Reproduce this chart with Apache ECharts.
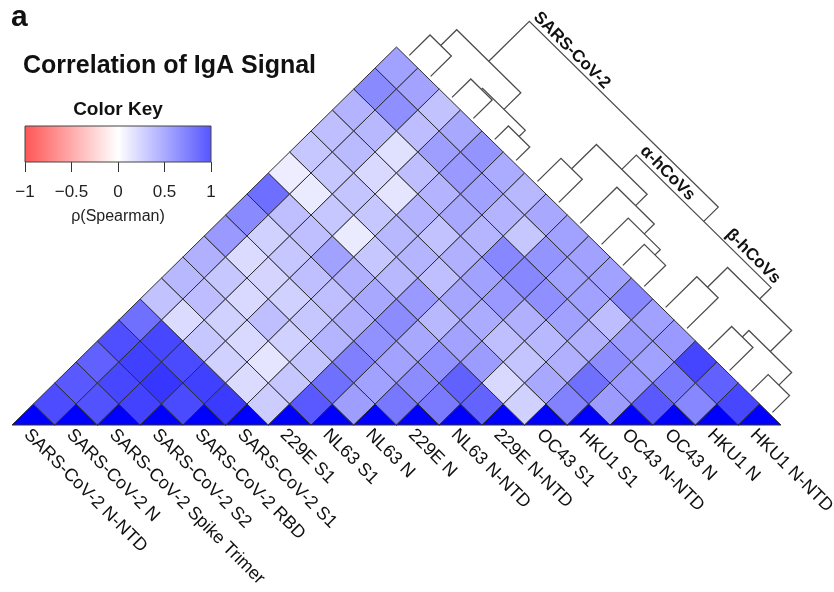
<!DOCTYPE html>
<html>
<head>
<meta charset="utf-8">
<script src="https://cdn.jsdelivr.net/npm/echarts@6/dist/echarts.min.js"></script>
<style>
  html, body { margin: 0; padding: 0; background: #ffffff; }
  #chart { width: 834px; height: 592px; }
</style>
</head>
<body>
<div id="chart"></div>
<script>
// Antigens in dendrogram (leaf) order
const antigens = [
  'SARS-CoV-2 N-NTD', 'SARS-CoV-2 N', 'SARS-CoV-2 Spike Trimer', 'SARS-CoV-2 S2',
  'SARS-CoV-2 RBD', 'SARS-CoV-2 S1', '229E S1', 'NL63 S1', 'NL63 N', '229E N',
  'NL63 N-NTD', '229E N-NTD', 'OC43 S1', 'HKU1 S1', 'OC43 N-NTD', 'OC43 N',
  'HKU1 N', 'HKU1 N-NTD'
];

// Spearman rho, upper triangle: rhoRows[i][k] = rho(antigens[i], antigens[i + 1 + k])
const rhoRows = [
  [0.70, 0.65, 0.62, 0.69, 0.56, 0.24, 0.28, 0.31, 0.40, 0.46, 0.57, 0.07, 0.22, 0.25, 0.30, 0.46, 0.37],
  [0.68, 0.72, 0.75, 0.72, 0.14, 0.26, 0.22, 0.14, 0.18, 0.25, 0.08, 0.22, 0.27, 0.28, 0.44, 0.36],
  [0.74, 0.79, 0.71, 0.22, 0.18, 0.15, 0.17, 0.22, 0.25, 0.22, 0.23, 0.15, 0.12, 0.26, 0.24],
  [0.71, 0.75, 0.18, 0.15, 0.25, 0.18, 0.25, 0.37, 0.08, 0.22, 0.10, 0.25, 0.38, 0.34],
  [0.77, 0.14, 0.10, 0.18, 0.22, 0.25, 0.31, 0.22, 0.28, 0.30, 0.30, 0.40, 0.42],
  [0.20, 0.22, 0.23, 0.29, 0.31, 0.34, 0.28, 0.29, 0.24, 0.34, 0.37, 0.33],
  [0.65, 0.56, 0.50, 0.43, 0.45, 0.40, 0.25, 0.31, 0.29, 0.30, 0.28],
  [0.38, 0.37, 0.36, 0.34, 0.28, 0.35, 0.37, 0.47, 0.22, 0.34],
  [0.53, 0.45, 0.43, 0.36, 0.33, 0.40, 0.47, 0.42, 0.37],
  [0.52, 0.62, 0.39, 0.25, 0.31, 0.44, 0.37, 0.37],
  [0.61, 0.15, 0.23, 0.28, 0.37, 0.37, 0.37],
  [0.18, 0.34, 0.31, 0.31, 0.26, 0.47],
  [0.49, 0.56, 0.45, 0.39, 0.37],
  [0.39, 0.40, 0.37, 0.40],
  [0.65, 0.52, 0.73],
  [0.47, 0.62],
  [0.72]
];

// Hierarchical clustering: each merge joins two nodes; ids < 18 are antigens,
// id 18 + k is the node created by merge k
const mergePairs = [
  [4, 5], [2, 3], [19, 18], [0, 1], [21, 20],
  [16, 17], [14, 15], [24, 23], [12, 13], [26, 25],
  [10, 11], [9, 28], [8, 29], [6, 7], [31, 30],
  [32, 27], [22, 33]
];
const mergeHeights = [
  0.37, 0.49, 0.515, 0.535, 0.91,
  0.45, 0.595, 0.75, 0.78, 1.25,
  0.55, 0.675, 0.91, 0.60, 1.18,
  1.52, 1.86
];

// Named clades and the dendrogram node each one labels
const cladeNames = ['SARS-CoV-2', 'α-hCoVs', 'β-hCoVs'];
const cladeNodes = [22, 32, 27];

// Colour key ticks
const keyTicks = [-1, -0.5, 0, 0.5, 1];

const FONT = '"Liberation Sans", Arial, Helvetica, sans-serif';
const n = antigens.length;
const leafGap = 0.05;

// Heatmap cells in the rotated (u, v) plane: diagonal cells sit on v = 0
const cells = [];
for (let i = 0; i < n; i++) {
  cells.push([i + 0.5, 0, 1, i, i]);
  for (let j = i + 1; j < n; j++) {
    cells.push([(i + j + 1) / 2, (j - i) / 2, rhoRows[i][j - i - 1], i, j]);
  }
}

// Dendrogram node positions along the right edge of the triangle
const nodePos = [], nodeH = [];
for (let i = 0; i < n; i++) { nodePos[i] = i; nodeH[i] = leafGap; }
mergePairs.forEach(function (pr, k) {
  nodePos[n + k] = (nodePos[pr[0]] + nodePos[pr[1]]) / 2;
  nodeH[n + k] = mergeHeights[k];
});
// (position along leaves, height) -> (u, v)
function toUV(p, h) {
  return [(p + n + 0.5) / 2 + h, (n - 0.5 - p) / 2 + h];
}
const dendroLines = mergePairs.map(function (pr, k) {
  const a = pr[0], b = pr[1], h = mergeHeights[k];
  return {
    coords: [
      toUV(nodePos[a], nodeH[a]), toUV(nodePos[a], h),
      toUV(nodePos[b], h), toUV(nodePos[b], nodeH[b])
    ]
  };
});

function findParent(id) {
  for (let k = 0; k < mergePairs.length; k++) {
    if (mergePairs[k][0] === id || mergePairs[k][1] === id) return k;
  }
  return -1;
}

const chart = echarts.init(document.getElementById('chart'), null, { renderer: 'canvas' });

const option = {
  backgroundColor: '#ffffff',
  animation: false,
  title: [
    { text: 'a', left: 11, top: 3, padding: 0, textStyle: { fontFamily: FONT, fontSize: 30, fontWeight: 'bold', color: '#111' } },
    { text: 'Correlation of IgA Signal', left: 23, top: 54, padding: 0, textStyle: { fontFamily: FONT, fontSize: 25, fontWeight: 'bold', color: '#111' } },
    { text: 'Color Key', left: 118, top: 100, padding: 0, textAlign: 'center', textStyle: { fontFamily: FONT, fontSize: 19, fontWeight: 'bold', color: '#111' } }
  ],
  grid: [
    { left: 12, top: 5, width: 19 * 42.72, height: 420, containLabel: false, outerBoundsMode: 'none' },
    { left: 5.4, top: 424, width: 18 * 42.72, height: 1, containLabel: false, outerBoundsMode: 'none' },
    { left: 25, top: 126, width: 186, height: 36, containLabel: false, outerBoundsMode: 'none' }
  ],
  xAxis: [
    { gridIndex: 0, type: 'value', min: 0, max: 19, show: false },
    {
      gridIndex: 1, type: 'category', data: antigens,
      axisLine: { show: false }, axisTick: { show: false }, splitLine: { show: false },
      axisLabel: { interval: 0, rotate: -45, margin: 7, fontFamily: FONT, fontSize: 18, color: '#111' }
    },
    {
      gridIndex: 2, type: 'value', min: keyTicks[0], max: keyTicks[keyTicks.length - 1],
      interval: keyTicks[1] - keyTicks[0],
      axisLine: { show: false }, splitLine: { show: false },
      axisTick: { show: true, length: 10, lineStyle: { color: '#333', width: 1 } },
      axisLabel: {
        margin: 22, fontFamily: FONT, fontSize: 17, color: '#222',
        formatter: function (v) { return String(v).replace('-', '\u2212'); }
      },
      name: 'ρ(Spearman)', nameLocation: 'middle', nameGap: 47,
      nameTextStyle: { fontFamily: FONT, fontSize: 16, color: '#222' }
    }
  ],
  yAxis: [
    { gridIndex: 0, type: 'value', min: 0, max: 10, show: false },
    { gridIndex: 1, type: 'value', show: false },
    { gridIndex: 2, type: 'value', min: 0, max: 1, show: false }
  ],
  visualMap: {
    show: false, type: 'continuous', seriesIndex: 0, dimension: 2,
    min: -1, max: 1, inRange: { color: ['#ff0000', '#ffffff', '#0000ff'] }
  },
  series: [
    {
      // correlation matrix, rotated 45 degrees
      type: 'custom', xAxisIndex: 0, yAxisIndex: 0, data: cells, silent: true,
      renderItem: function (params, api) {
        const u = api.value(0), v = api.value(1), i = api.value(3), j = api.value(4);
        const pts = (i === j)
          ? [[u - 0.5, 0], [u, 0.5], [u + 0.5, 0]]
          : [[u - 0.5, v], [u, v + 0.5], [u + 0.5, v], [u, v - 0.5]];
        return {
          type: 'polygon',
          shape: { points: pts.map(function (p) { return api.coord(p); }) },
          style: { fill: api.visual('color'), stroke: '#2e2e2e', lineWidth: 1 }
        };
      }
    },
    {
      // dendrogram
      type: 'lines', coordinateSystem: 'cartesian2d', xAxisIndex: 0, yAxisIndex: 0,
      polyline: true, silent: true, data: dendroLines,
      lineStyle: { color: '#4d4d4d', width: 1.3, opacity: 1 }
    },
    {
      // clade names written along the branches
      type: 'custom', xAxisIndex: 0, yAxisIndex: 0, silent: true,
      data: cladeNodes.map(function (id, k) { return [id, k]; }),
      renderItem: function (params, api) {
        const id = api.value(0), k = api.value(1);
        const m = findParent(id);
        const pr = mergePairs[m];
        const sib = pr[0] === id ? pr[1] : pr[0];
        const start = api.coord(toUV(nodePos[id], mergeHeights[m]));
        const toRight = nodePos[sib] > nodePos[id];
        const off = 0.6;
        return {
          type: 'text',
          x: start[0] + off, y: start[1] - off,
          rotation: -Math.PI / 4,
          style: {
            text: cladeNames[k], x: 0, y: 0,
            align: toRight ? 'left' : 'right', verticalAlign: 'bottom',
            font: 'bold 17px ' + FONT, fill: '#111'
          }
        };
      }
    },
    {
      // colour key bar
      type: 'custom', xAxisIndex: 2, yAxisIndex: 2, silent: true,
      data: [[keyTicks[0], keyTicks[keyTicks.length - 1]]],
      renderItem: function (params, api) {
        const p0 = api.coord([api.value(0), 0]);
        const p1 = api.coord([api.value(1), 1]);
        return {
          type: 'rect',
          shape: { x: p0[0], y: p1[1], width: p1[0] - p0[0], height: p0[1] - p1[1] },
          style: {
            fill: new echarts.graphic.LinearGradient(0, 0, 1, 0, [
              { offset: 0, color: '#ff5555' },
              { offset: 0.5, color: '#ffffff' },
              { offset: 1, color: '#5555ff' }
            ]),
            stroke: '#444', lineWidth: 1
          }
        };
      }
    }
  ]
};

chart.setOption(option);
</script>
</body>
</html>
